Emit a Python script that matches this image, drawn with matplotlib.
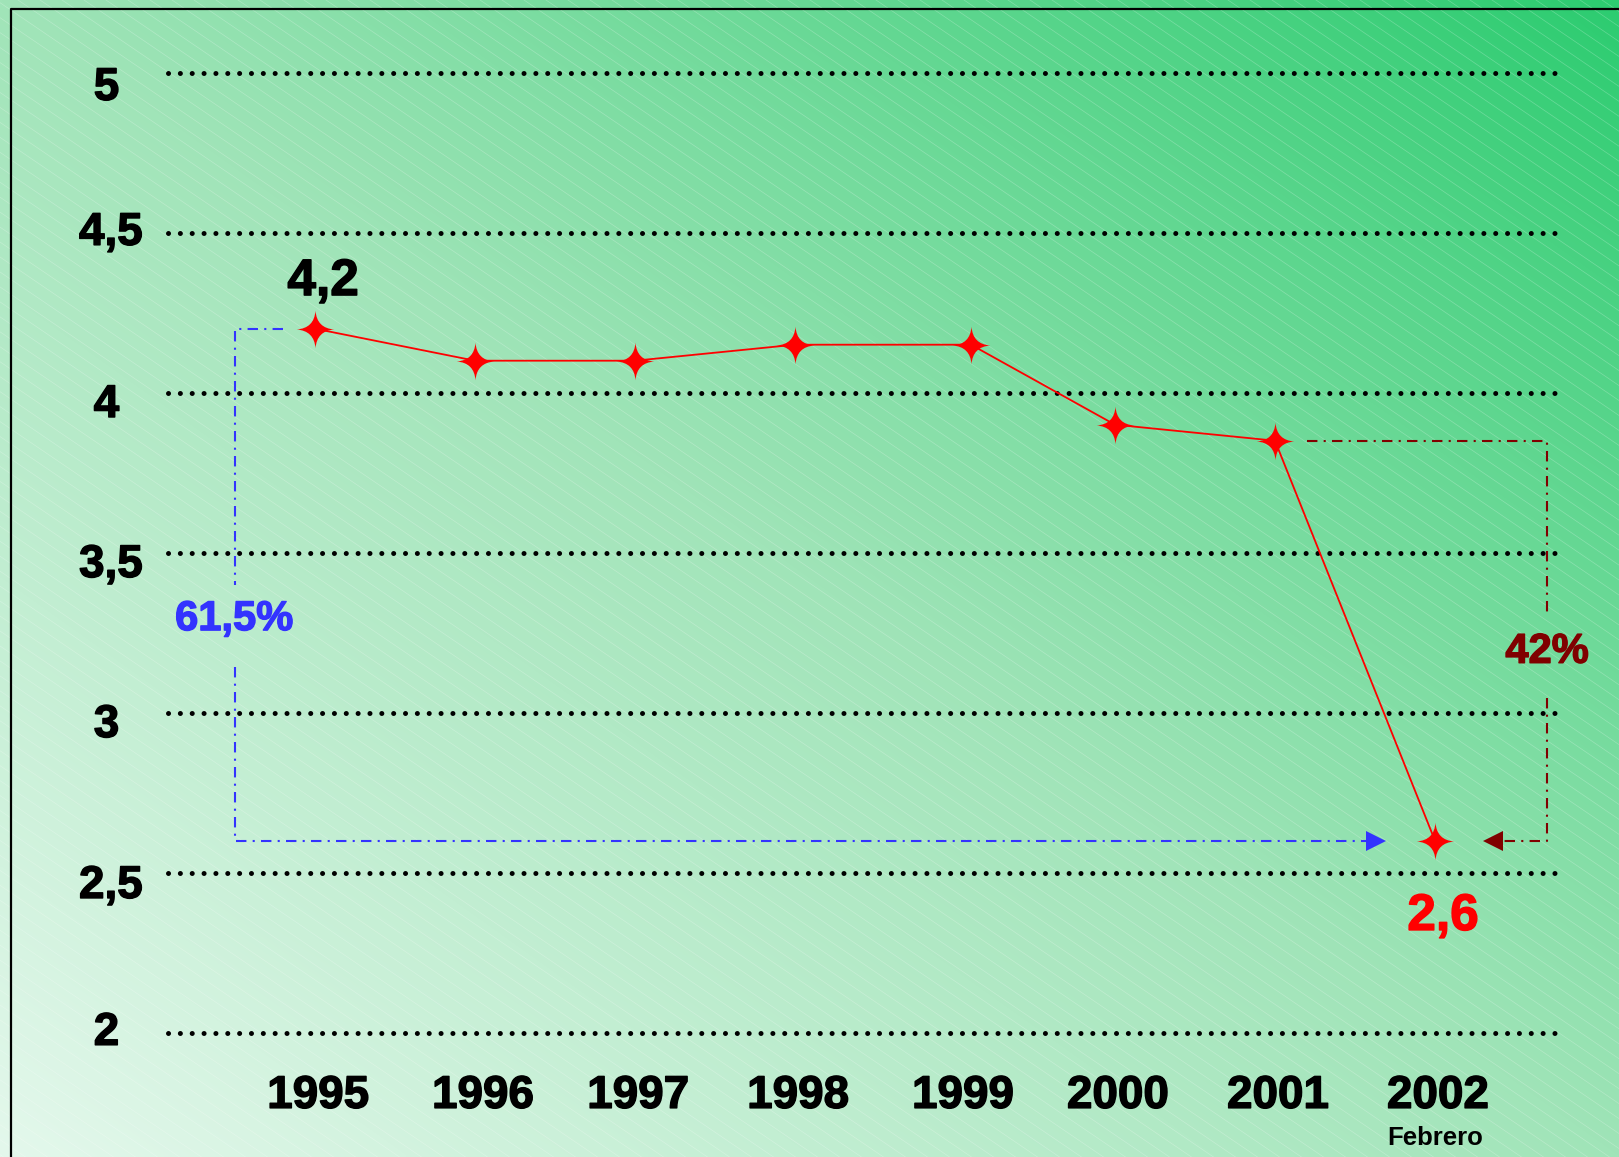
import numpy as np
import matplotlib
matplotlib.use('Agg')
import matplotlib.pyplot as plt
import matplotlib.patheffects as pe
from matplotlib.path import Path

# datos
years = ['1995', '1996', '1997', '1998', '1999', '2000', '2001', '2002']
x_pos = [0, 1, 2, 3, 4.1, 5, 6, 7]
values = [4.2, 4.1, 4.1, 4.15, 4.15, 3.9, 3.85, 2.6]
y_levels = [2, 2.5, 3, 3.5, 4, 4.5, 5]
y_labels = ['2', '2,5', '3', '3,5', '4', '4,5', '5']

W, H = 1619, 1157
FONT = 'Liberation Sans'

# posiciones de texto (en unidades de datos)
ylab_base = [1.962, 2.421, 2.924, 3.424, 3.924, 4.462, 4.915]
xlab_x = [0.02, 1.05, 2.02, 3.02, 4.05, 5.02, 6.02, 7.02]


def bold_text(ax, x, y, s, size, color):
    ax.text(x, y, s, ha='center', va='baseline', fontsize=size,
            fontweight='bold', family=FONT, color=color,
            path_effects=[pe.withStroke(linewidth=1.0, foreground=color)])


fig = plt.figure(figsize=(W / 100, H / 100), dpi=100)

# fondo degradado
bg = fig.add_axes([0, 0, 1, 1])
gx, gy = np.meshgrid(np.linspace(0, 1, 400), np.linspace(0, 1, 300))
t = (gx + (1 - gy)) / 2  # 0 abajo-izquierda, 1 arriba-derecha
stops = np.array([0.0, 0.5, 1.0])
cols = np.array([[228, 248, 236], [160, 228, 184], [44, 204, 112]]) / 255
img = np.stack([np.interp(t, stops, cols[:, k]) for k in range(3)], axis=-1)
bg.imshow(img, extent=[0, W, H, 0], aspect='auto', interpolation='bilinear')
# rayas diagonales
for c in range(-2 * H, W, 22):
    bg.plot([c, c + H / 0.68], [0, H], color='white', lw=0.5, alpha=0.25)
# borde
bg.plot([11, 11, W], [H, 9, 9], color='black', lw=1.6)
bg.set_xlim(0, W)
bg.set_ylim(H, 0)
bg.axis('off')

# ejes principales (pixeles -> datos)
ax = fig.add_axes([0, 0, 1, 1])
ax.patch.set_alpha(0)
ax.set_xlim((0 - 315) / 160, (W - 315) / 160)
ax.set_ylim(5 - (H - 72.7) / 320, 5 + 72.7 / 320)
ax.axis('off')

for lv in y_levels:
    ax.plot([-0.919, 7.7625], [lv, lv], color='black', lw=3.6,
            linestyle=(0, (0.01, 2.36)), dash_capstyle='round', zorder=2)

for yb, lab in zip(ylab_base, y_labels):
    xc = -1.275 if ',' in lab else -1.303
    bold_text(ax, xc, yb, lab, 33, 'black')

for xl, yr in zip(xlab_x, years):
    bold_text(ax, xl, 1.765, yr, 33, 'black')
ax.text(7.0, 1.649, 'Febrero', ha='center', va='baseline', fontsize=18.5,
        fontweight='bold', family=FONT, color='black')

# marcador estrella de 4 puntas (lados curvos)
tips = [(0, 1), (1, 0), (0, -1), (-1, 0)]
ctrl = [(0.07, 0.07), (0.07, -0.07), (-0.07, -0.07), (-0.07, 0.07)]
verts = [tips[0]]
codes = [Path.MOVETO]
for k in range(4):
    verts += [ctrl[k], tips[(k + 1) % 4]]
    codes += [Path.CURVE3, Path.CURVE3]
star = Path(verts, codes)

ax.plot(x_pos, values, color='red', lw=1.3, marker=star, ms=27,
        mfc='red', mec='red', mew=0, zorder=5)

# flechas de porcentaje
blue = '#3333ff'
dred = '#800000'
dd = (0, (5, 3, 1, 3))
ax.plot([-0.2, -0.5, -0.5], [4.2, 4.2, 3.399], color=blue, lw=1.5, linestyle=dd, zorder=3)
ax.plot([-0.5, -0.5, 6.6], [3.143, 2.6, 2.6], color=blue, lw=1.5, linestyle=dd, zorder=3)
ax.plot([6.63], [2.6], marker='>', ms=14, color=blue, mew=0, zorder=3)
bold_text(ax, -0.506, 3.258, '61,5%', 30, blue)

ax.plot([6.2, 7.7, 7.7], [3.85, 3.85, 3.299], color=dred, lw=1.5, linestyle=dd, zorder=3)
ax.plot([7.7, 7.7, 7.4], [3.046, 2.6, 2.6], color=dred, lw=1.5, linestyle=dd, zorder=3)
ax.plot([7.36], [2.6], marker='<', ms=14, color=dred, mew=0, zorder=3)
bold_text(ax, 7.7, 3.156, '42%', 30, dred)

bold_text(ax, 0.05, 4.305, '4,2', 37, 'black')
bold_text(ax, 7.05, 2.321, '2,6', 37, 'red')

fig.savefig('out.png', dpi=100)
